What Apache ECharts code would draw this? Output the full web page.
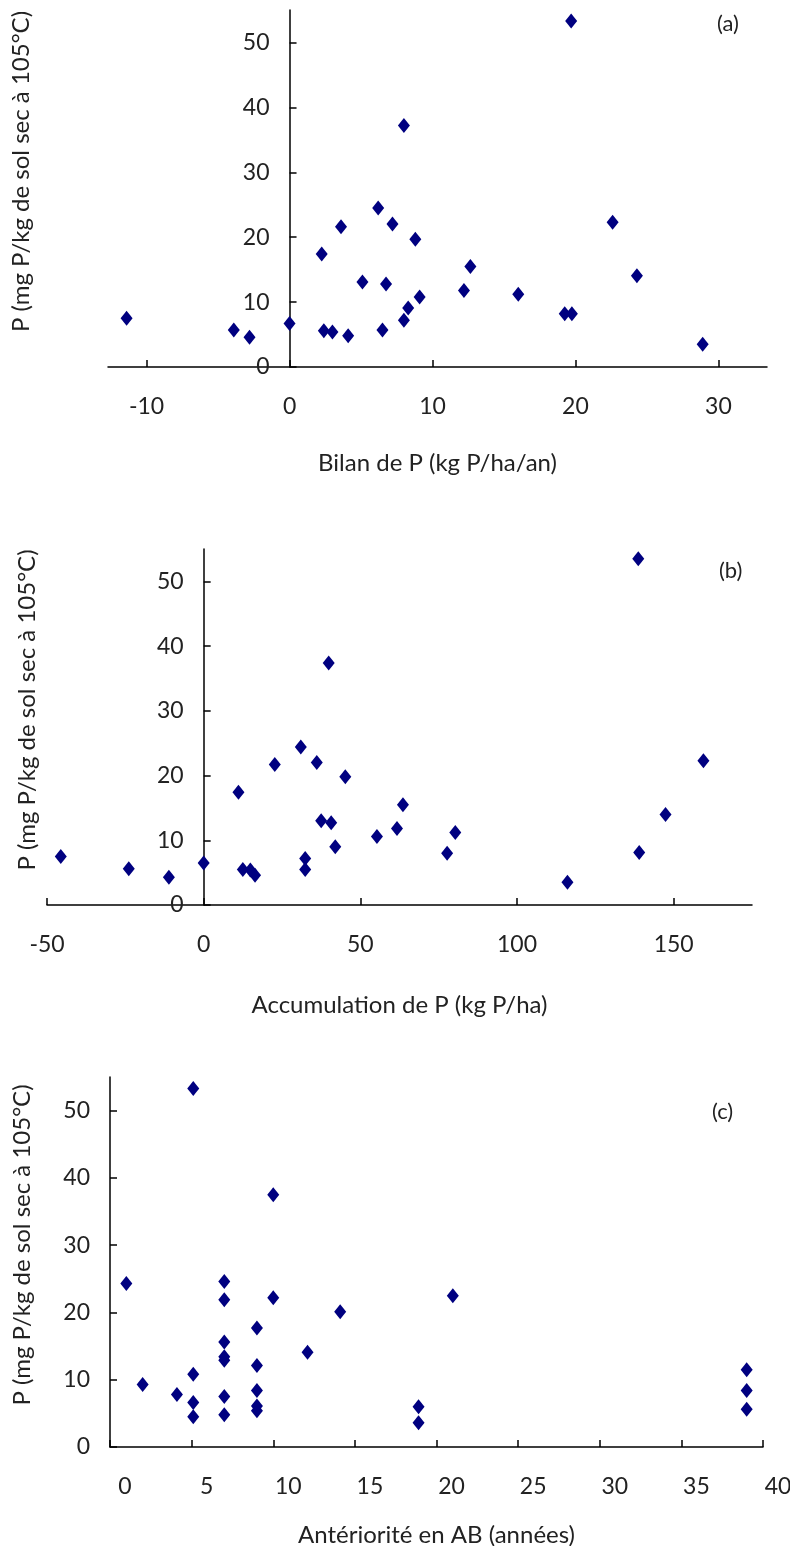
<!DOCTYPE html>
<html>
<head>
<meta charset="utf-8">
<script src="https://cdn.jsdelivr.net/npm/echarts@6/dist/echarts.min.js"></script>
<style>
html, body { margin: 0; padding: 0; background: #fff; }
#chart { width: 790px; height: 1546px; }
</style>
</head>
<body>
<div id="chart"></div>
<script>
// (a) bilan de P
var bilanX = [-11.4, -3.9, -2.8, 0, 2.25, 2.4, 3.0, 3.6, 4.1, 5.1, 6.2, 6.5, 6.75, 7.2, 8.0, 8.0, 8.3, 8.8, 9.1, 12.2, 12.65, 16.0, 19.25, 19.7, 19.75, 22.6, 24.3, 28.9];
var bilanP = [7.5, 5.7, 4.6, 6.7, 17.4, 5.6, 5.4, 21.6, 4.8, 13.1, 24.5, 5.7, 12.8, 22.05, 37.2, 7.2, 9.1, 19.7, 10.8, 11.8, 15.5, 11.2, 8.2, 53.3, 8.2, 22.3, 14.05, 3.5];

// (b) accumulation de P
var accuX = [-45.6, -23.9, -11.1, 0, 11.1, 12.5, 14.9, 16.4, 22.7, 31.0, 32.4, 32.4, 36.1, 37.5, 39.9, 40.7, 42.0, 45.2, 55.3, 61.7, 63.6, 77.7, 80.3, 116.1, 138.7, 139.0, 147.4, 159.5];
var accuP = [7.5, 5.6, 4.3, 6.5, 17.4, 5.5, 5.4, 4.6, 21.7, 24.4, 7.2, 5.5, 22.0, 13.0, 37.4, 12.7, 9.0, 19.8, 10.6, 11.8, 15.5, 8.0, 11.2, 3.5, 53.5, 8.1, 14.0, 22.3];

// (c) anteriorite en AB
var anneesX = [1, 2, 4.1, 5.1, 5.1, 5.1, 5.1, 7, 7, 7, 7, 7, 7, 7, 9, 9, 9, 9, 9, 10, 10, 12.1, 14.1, 18.9, 18.9, 21, 39, 39, 39];
var anneesP = [24.3, 9.3, 7.8, 53.3, 10.8, 6.6, 4.5, 24.6, 21.9, 15.6, 13.4, 12.9, 7.5, 4.8, 17.7, 12.1, 8.4, 6.1, 5.4, 37.5, 22.2, 14.1, 20.1, 6.0, 3.6, 22.5, 11.5, 8.4, 5.6];

var ticksA = [-10, 0, 10, 20, 30];
var ticksB = [-50, 0, 50, 100, 150];
var ticksC = [0, 5, 10, 15, 20, 25, 30, 35, 40];
var ticksY = [0, 10, 20, 30, 40, 50];

var yName = 'P (mg P/kg de sol sec à 105°C)';
var xNames = ['Bilan de P (kg P/ha/an)', 'Accumulation de P (kg P/ha)', 'Antériorité en AB (années)'];
var panelLabels = ['(a)', '(b)', '(c)'];

var W = 790;
var font = 'Lato';
var fs = 23;

var grids = [
  { left: 108, right: 23, top: 10, height: 357 },
  { left: 47, right: 38, top: 549, height: 356 },
  { left: 110, right: 27, top: 1077, height: 370 }
];
var xRanges = [[-12.7, 33.4], [-50, 175], [0, 40]];

function pairs(xs, ys) {
  return xs.map(function (x, i) { return [x, ys[i]]; });
}

// the y axis crosses the x axis at x = 0 (Excel style)
function zeroOffset(idx) {
  var g = grids[idx], r = xRanges[idx];
  var w = W - g.left - g.right;
  return -w * (0 - r[0]) / (r[1] - r[0]);
}

function xAxisOf(idx, ticks, gap, labelPad) {
  return {
    type: 'value', gridIndex: idx, min: xRanges[idx][0], max: xRanges[idx][1],
    name: xNames[idx], nameLocation: 'middle', nameGap: gap,
    nameTextStyle: { fontFamily: font, fontSize: 24, color: '#222' },
    axisLine: { onZero: true, lineStyle: { color: '#000', width: 1.5 } },
    axisTick: { inside: true, length: 7, customValues: ticks, lineStyle: { color: '#000', width: 1.5 } },
    axisLabel: { customValues: ticks, margin: 28, fontFamily: font, fontSize: fs, color: '#222', padding: labelPad },
    splitLine: { show: false }
  };
}

function yAxisOf(idx, gap) {
  return {
    type: 'value', gridIndex: idx, min: 0, max: 55,
    offset: zeroOffset(idx),
    name: yName, nameLocation: 'middle', nameGap: gap,
    nameTextStyle: { fontFamily: font, fontSize: 24, color: '#222', padding: [0, 0, 0, 34] },
    axisLine: { onZero: false, lineStyle: { color: '#000', width: 1.5 } },
    axisTick: { inside: true, length: 7, customValues: ticksY, lineStyle: { color: '#000', width: 1.5 } },
    axisLabel: { customValues: ticksY, margin: 20, fontFamily: font, fontSize: fs, color: '#222', padding: [4, 0, 0, 0] },
    splitLine: { show: false }
  };
}

function seriesOf(idx, data) {
  return {
    type: 'scatter', xAxisIndex: idx, yAxisIndex: idx,
    data: data, symbol: 'diamond', symbolSize: [12, 15],
    itemStyle: { color: '#000080', opacity: 1 }
  };
}

var chart = echarts.init(document.getElementById('chart'));
chart.setOption({
  animation: false,
  backgroundColor: '#fff',
  title: [
    { text: panelLabels[0], left: 712, top: 8 },
    { text: panelLabels[1], left: 714, top: 555 },
    { text: panelLabels[2], left: 707, top: 1096 }
  ].map(function (t) {
    t.textStyle = { fontFamily: font, fontSize: 22, fontWeight: 'normal', color: '#222' };
    return t;
  }),
  grid: grids.map(function (g) {
    return { left: g.left, right: g.right, top: g.top, height: g.height, outerBoundsMode: 'none', containLabel: false };
  }),
  xAxis: [
    xAxisOf(0, ticksA, 84, 0),
    xAxisOf(1, ticksB, 88, 0),
    xAxisOf(2, ticksC, 76, [0, 0, 0, 30])
  ],
  yAxis: [
    yAxisOf(0, 256),
    yAxisOf(1, 164),
    yAxisOf(2, 76)
  ],
  series: [
    seriesOf(0, pairs(bilanX, bilanP)),
    seriesOf(1, pairs(accuX, accuP)),
    seriesOf(2, pairs(anneesX, anneesP))
  ]
});
</script>
</body>
</html>
